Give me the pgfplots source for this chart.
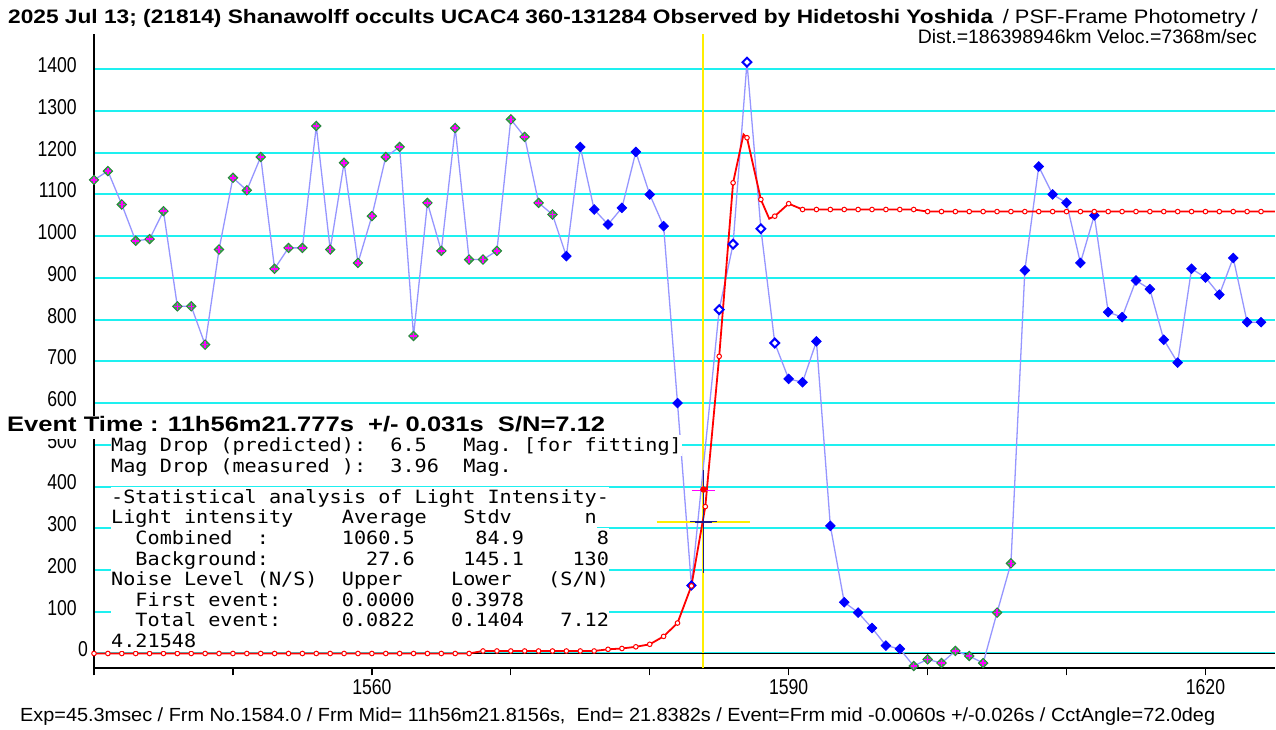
\documentclass[border=0pt]{standalone}
\usepackage{fontspec}
\usepackage{pgfplots}
\usepackage{pgfplotstable}
\pgfplotsset{compat=1.18}
\setmainfont{Liberation Sans}
\newfontfamily\gothic[FakeStretch=0.82]{Liberation Sans}
\newfontfamily\mono[FakeStretch=1.105]{DejaVu Sans Mono}
\definecolor{gridc}{RGB}{30,240,240}
\definecolor{bline}{RGB}{150,150,255}
\definecolor{bmark}{RGB}{0,0,255}
\definecolor{mgreen}{RGB}{60,170,80}
\definecolor{dgreen}{RGB}{40,130,60}
\definecolor{mmag}{RGB}{255,0,255}
\definecolor{rline}{RGB}{255,0,0}
\definecolor{navyc}{RGB}{30,30,140}
\definecolor{yel}{RGB}{255,238,0}

\pgfdeclareplotmark{gdia}{%
  \pgfpathmoveto{\pgfqpoint{0pt}{4.8pt}}%
  \pgfpathlineto{\pgfqpoint{4.8pt}{0pt}}%
  \pgfpathlineto{\pgfqpoint{0pt}{-4.8pt}}%
  \pgfpathlineto{\pgfqpoint{-4.8pt}{0pt}}%
  \pgfpathclose
  \pgfsetfillcolor{mgreen}\pgfsetstrokecolor{dgreen}\pgfsetlinewidth{0.8pt}%
  \pgfusepathqfillstroke
  \pgfpathmoveto{\pgfqpoint{-3.2pt}{0pt}}\pgfpathlineto{\pgfqpoint{3.2pt}{0pt}}%
  \pgfpathmoveto{\pgfqpoint{0pt}{-3.2pt}}\pgfpathlineto{\pgfqpoint{0pt}{3.2pt}}%
  \pgfsetstrokecolor{mmag}\pgfsetlinewidth{1.5pt}%
  \pgfusepathqstroke
}
\pgfdeclareplotmark{bdia}{%
  \pgfpathmoveto{\pgfqpoint{0pt}{4.8pt}}%
  \pgfpathlineto{\pgfqpoint{4.8pt}{0pt}}%
  \pgfpathlineto{\pgfqpoint{0pt}{-4.8pt}}%
  \pgfpathlineto{\pgfqpoint{-4.8pt}{0pt}}%
  \pgfpathclose
  \pgfsetfillcolor{bmark}\pgfsetstrokecolor{bmark}\pgfsetlinewidth{0.8pt}%
  \pgfusepathqfillstroke
}
\pgfdeclareplotmark{hdia}{%
  \pgfpathmoveto{\pgfqpoint{0pt}{4.4pt}}%
  \pgfpathlineto{\pgfqpoint{4.4pt}{0pt}}%
  \pgfpathlineto{\pgfqpoint{0pt}{-4.4pt}}%
  \pgfpathlineto{\pgfqpoint{-4.4pt}{0pt}}%
  \pgfpathclose
  \pgfsetfillcolor{white}\pgfsetstrokecolor{bmark}\pgfsetlinewidth{2pt}%
  \pgfusepathqfillstroke
}

% observed light curve: frame, intensity, marker class
\pgfplotstableread{
f v c
1540 1135 g
1541 1156 g
1542 1076 g
1543 989 g
1544 993 g
1545 1060 g
1546 832 g
1547 832 g
1548 740 g
1549 968 g
1550 1140 g
1551 1110 g
1552 1190 g
1553 922 g
1554 972 g
1555 972 g
1556 1264 g
1557 968 g
1558 1176 g
1559 936 g
1560 1048 g
1561 1190 g
1562 1214 g
1563 761 g
1564 1080 g
1565 965 g
1566 1259 g
1567 944 g
1568 944 g
1569 965 g
1570 1280 g
1571 1238 g
1572 1080 g
1573 1052 g
1574 952 b
1575 1214 b
1576 1064 b
1577 1028 b
1578 1068 b
1579 1202 b
1580 1100 b
1581 1024 b
1582 600 b
1583 163 b
1585 824 h
1586 981 h
1587 1417 h
1588 1018 h
1589 744 h
1590 658 b
1591 650 b
1592 748 b
1593 306 b
1594 123 b
1595 98 b
1596 61 b
1597 19 b
1598 11 b
1599 -30 g
1600 -14 g
1601 -23 g
1602 6 g
1603 -6 g
1604 -23 g
1605 98 g
1606 216 g
1607 918 b
1608 1167 b
1609 1100 b
1610 1080 b
1611 936 b
1612 1050 b
1613 818 b
1614 806 b
1615 894 b
1616 873 b
1617 752 b
1618 697 b
1619 922 b
1620 901 b
1621 860 b
1622 948 b
1623 794 b
1624 794 b
}\obs

% fitted model, one value per frame
\pgfplotstableread{
f v
1540 0
1541 0
1542 0
1543 0
1544 0
1545 0
1546 0
1547 0
1548 0
1549 0
1550 0
1551 0
1552 0
1553 0
1554 0
1555 0
1556 0
1557 0
1558 0
1559 0
1560 0
1561 0
1562 0
1563 0
1564 0
1565 0
1566 0
1567 0
1568 6
1569 6
1570 6
1571 6
1572 6
1573 6
1574 6
1575 6
1576 6
1577 10
1578 12
1579 16
1580 22
1581 41
1582 73
1583 162
1584 352
1585 712
1586 1128
1587 1236
1588 1088
1589 1048
1590 1078
1591 1064
1592 1064
1593 1064
1594 1064
1595 1064
1596 1064
1597 1064
1598 1064
1599 1064
1600 1059
1601 1059
1602 1059
1603 1059
1604 1059
1605 1059
1606 1059
1607 1059
1608 1059
1609 1059
1610 1059
1611 1059
1612 1059
1613 1059
1614 1059
1615 1059
1616 1059
1617 1059
1618 1059
1619 1059
1620 1059
1621 1059
1622 1059
1623 1059
1624 1059
}\model

% fitted model line (with sub-frame extrema read off the curve)
\pgfplotstableread{
f v
1540 0
1567 0
1568 6
1576 6
1577 10
1578 12
1579 16
1580 22
1581 41
1582 73
1583 162
1584 352
1585 712
1586 1128
1586.75 1244
1587 1236
1588 1088
1588.6 1042
1589 1048
1590 1078
1591 1064
1599 1064
1600 1059
1625 1059
}\modelline

\newcommand\mline[2]{\node[anchor=base west, inner sep=0pt, fill=white, text height=16.5pt, text depth=4pt] at (111pt,#1pt) {\mono\fontsize{18.25}{20}\selectfont #2};}

\begin{document}
\begin{tikzpicture}
\begin{axis}[
  at={(94pt,61.7pt)}, anchor=south west,
  scale only axis, width=1181pt, height=634.3pt,
  xmin=1540, xmax=1625, ymin=-35.5, ymax=1484.6,
  axis x line=bottom, axis y line=left,
  axis line style={-, black, line width=1.6pt},
  xtick={1540,1550,...,1620},
  xticklabels={,,1560,,,1590,,,1620},
  ytick={100,200,...,1400},
  extra y ticks={0},
  extra y tick style={yticklabel style={xshift=11pt}},
  ymajorgrids,
  major grid style={gridc, line width=2pt},
  tick align=outside,
  major tick length=7pt,
  x tick style={black, line width=1.4pt},
  y tick style={draw=none},
  tick label style={font=\gothic\fontsize{21.5}{22}\selectfont},
  yticklabel style={anchor=base east, inner sep=0pt, xshift=-10pt, yshift=-3.4pt},
  xticklabel style={anchor=base, inner sep=0pt, yshift=-19.7pt},
  /pgf/number format/assume math mode=true,
  /pgf/number format/1000 sep={},
]
% event time line
\addplot[yel, line width=2pt] coordinates {(1583.87,-35.5) (1583.87,1484.6)};
% zero level
\addplot[black, line width=1.4pt] coordinates {(1540,0) (1625,0)};
% observed curve
\addplot[bline, line width=1.3pt] table[x=f, y=v] {\obs};
\addplot[scatter, only marks, scatter src=explicit symbolic,
  scatter/classes={g={mark=gdia}, b={mark=bdia}, h={mark=hdia}}]
  table[x=f, y=v, meta=c] {\obs};
% model
\addplot[rline, line width=1.8pt] table[x=f, y=v] {\modelline};
\addplot[only marks, mark=*, mark size=2.3pt, mark options={fill=white, draw=rline, line width=1pt}] table[x=f, y=v] {\model};
% event estimate
\addplot[yel, line width=2pt] coordinates {(1580.5,316) (1587.2,316)};
\addplot[mmag, line width=1.6pt] coordinates {(1583.02,391) (1584.72,391)};
\addplot[navyc, line width=1.8pt, mark=none,
  error bars/.cd, x dir=both, x explicit, y dir=both, y explicit,
  error bar style={line width=1.8pt, navyc},
  error mark options={mark size=4.6pt, line width=1.6pt, navyc}]
  coordinates {(1583.87,316) +- (0.63,112)};
\addplot[only marks, mark=*, mark size=3pt, mark options={fill=rline, draw=rline}] coordinates {(1583.87,393)};
\end{axis}

% titles
\node[anchor=base west, inner sep=0pt] at (8pt,706pt) {\resizebox{985pt}{\height}{\gothic\fontsize{19.5}{20}\selectfont\bfseries 2025 Jul 13; (21814) Shanawolff occults UCAC4 360-131284 Observed by Hidetoshi Yoshida}};
\node[anchor=base east, inner sep=0pt] at (1258pt,706pt) {\resizebox{255pt}{\height}{\gothic\fontsize{19.5}{20}\selectfont / PSF-Frame Photometry /}};
\node[anchor=base east, inner sep=0pt] at (1257pt,686pt) {\resizebox{339pt}{\height}{\gothic\fontsize{19.5}{20}\selectfont Dist.=186398946km Veloc.=7368m/sec}};

% event time
\node[anchor=base west, inner sep=0pt, fill=white, text depth=7.5pt] at (7pt,298.3pt) {\resizebox{598pt}{\height}{\gothic\fontsize{21}{22}\selectfont\bfseries Event Time : 11h56m21.777s\ \ +/- 0.031s\ \ S/N=7.12}};

% statistics block
\mline{278.3}{Mag\ Drop\ (predicted):\ \ 6.5\ \ \ Mag.\ [for\ fitting]}
\mline{257.7}{Mag\ Drop\ (measured\ ):\ \ 3.96\ \ Mag.}
\mline{226.7}{-Statistical\ analysis\ of\ Light\ Intensity-}
\mline{206.1}{Light\ intensity\ \ \ \ Average\ \ \ Stdv\ \ \ \ \ \ n}
\mline{185.5}{\ \ Combined\ \ :\ \ \ \ \ \ 1060.5\ \ \ \ \ 84.9\ \ \ \ \ \ 8}
\mline{164.9}{\ \ Background:\ \ \ \ \ \ \ \ 27.6\ \ \ \ 145.1\ \ \ \ 130}
\mline{144.3}{Noise\ Level\ (N/S)\ \ Upper\ \ \ \ Lower\ \ \ (S/N)}
\mline{123.7}{\ \ First\ event:\ \ \ \ \ 0.0000\ \ \ 0.3978}
\mline{103.1}{\ \ Total\ event:\ \ \ \ \ 0.0822\ \ \ 0.1404\ \ \ 7.12}
\mline{82.5}{4.21548}

% bottom line
\node[anchor=base west, inner sep=0pt] at (20pt,8pt) {\resizebox{1195pt}{\height}{\gothic\fontsize{19}{20}\selectfont Exp=45.3msec / Frm No.1584.0 / Frm Mid= 11h56m21.8156s,\ \ End= 21.8382s / Event=Frm mid -0.0060s +/-0.026s / CctAngle=72.0deg}};

\pgfresetboundingbox
\useasboundingbox (0pt,0pt) rectangle (1276pt,730pt);
\end{tikzpicture}
\end{document}
